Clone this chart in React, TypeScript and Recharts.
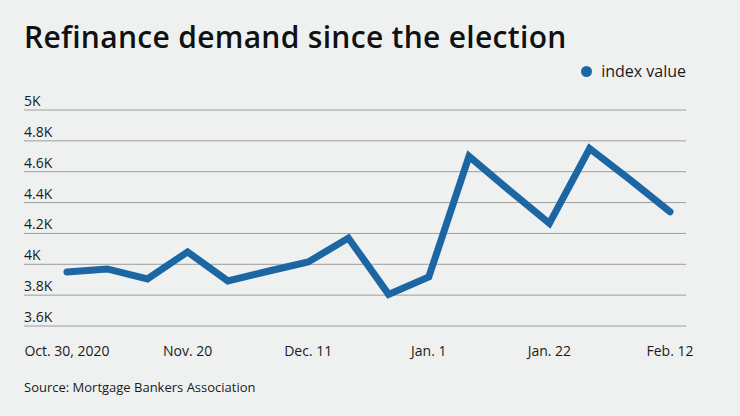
import React from 'react';
import { LineChart, Line, XAxis, YAxis, CartesianGrid } from 'recharts';

const weeks = [
  'Oct. 30, 2020', 'Nov. 6', 'Nov. 13', 'Nov. 20', 'Nov. 27', 'Dec. 4', 'Dec. 11', 'Dec. 18',
  'Dec. 25', 'Jan. 1', 'Jan. 8', 'Jan. 15', 'Jan. 22', 'Jan. 29', 'Feb. 5', 'Feb. 12',
];
const indexValues = [
  3950, 3970, 3905, 4080, 3892, 3955, 4015, 4170,
  3805, 3918, 4700, 4480, 4265, 4750, 4550, 4340,
];
const yTicks = [3600, 3800, 4000, 4200, 4400, 4600, 4800, 5000];

const COLORS = {
  bg: '#eff1f1',
  line: '#1c67a3',
  grid: '#9c9c9c',
  text: '#1a1a1a',
};
const FONT = '"Open Sans", "Noto Sans", sans-serif';

const data = weeks.map((w, i) => ({ week: w, value: indexValues[i] }));

function fmtK(v: number) {
  return `${parseFloat((v / 1000).toFixed(1))}K`;
}

const renderYTick = (props: any) => {
  const { x, y, payload } = props;
  return (
    <text key={payload.value} x={x} y={y - 4} textAnchor="start" fill={COLORS.text} fontSize={14} fontFamily={FONT}>
      {fmtK(payload.value)}
    </text>
  );
};

export default function App() {
  return (
    <div style={{ position: 'absolute', left: 0, top: 0, width: 740, height: 416, background: COLORS.bg, overflow: 'hidden' }}>
      <div style={{ position: 'absolute', left: 24, top: 16, fontFamily: FONT, fontWeight: 600, fontSize: 30, color: '#111', letterSpacing: 0.3 }}>
        Refinance demand since the election
      </div>
      <div style={{ position: 'absolute', right: 54, top: 60, display: 'flex', alignItems: 'center', fontFamily: FONT, fontSize: 16, color: COLORS.text }}>
        <span style={{ width: 11, height: 11, borderRadius: '50%', background: COLORS.line, display: 'inline-block', marginRight: 9 }} />
        index value
      </div>
      <LineChart width={740} height={416} data={data} margin={{ top: 110, right: 54, bottom: 60, left: 23 }}>
        <CartesianGrid vertical={false} stroke={COLORS.grid} />
        <XAxis
          dataKey="week"
          interval={2}
          axisLine={false}
          tickLine={false}
          tickMargin={14}
          padding={{ left: 43, right: 16 }}
          tick={{ fill: COLORS.text, fontSize: 14, fontFamily: FONT }}
        />
        <YAxis
          domain={[3600, 5000]}
          ticks={yTicks}
          width={1}
          axisLine={false}
          tickLine={false}
          tickSize={0}
          tickMargin={0}
          tick={renderYTick}
        />
        <Line
          type="linear"
          dataKey="value"
          name="index value"
          stroke={COLORS.line}
          strokeWidth={7}
          strokeLinecap="round"
          dot={false}
          activeDot={false}
          isAnimationActive={false}
        />
      </LineChart>
      <div style={{ position: 'absolute', left: 24, top: 378, fontFamily: FONT, fontSize: 13, color: COLORS.text }}>
        Source: Mortgage Bankers Association
      </div>
    </div>
  );
}
